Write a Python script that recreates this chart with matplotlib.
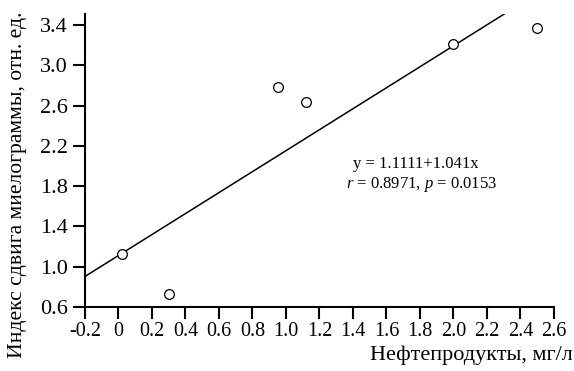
import matplotlib
matplotlib.use("Agg")
import matplotlib.pyplot as plt
import numpy as np

# data
oil = [0.02, 0.30, 0.95, 1.12, 2.00, 2.50]
shift_index = [1.13, 0.73, 2.78, 2.64, 3.21, 3.37]
intercept = 1.1111
slope = 1.041
xticks = np.round(np.arange(-0.2, 2.61, 0.2), 1)
xticklabels = ["-0.2", "0", "0.2", "0.4", "0.6", "0.8", "1.0", "1.2", "1.4",
               "1.6", "1.8", "2.0", "2.2", "2.4", "2.6"]
yticks = [0.6, 1.0, 1.4, 1.8, 2.2, 2.6, 3.0, 3.4]
yticklabels = ["0.6", "1.0", "1.4", "1.8", "2.2", "2.6", "3.0", "3.4"]

plt.rcParams["font.family"] = ["Liberation Serif", "DejaVu Serif"]
plt.rcParams["mathtext.fontset"] = "custom"
plt.rcParams["mathtext.rm"] = "Liberation Serif"
plt.rcParams["mathtext.it"] = "Liberation Serif:italic"

fig = plt.figure(figsize=(5.74, 3.71), dpi=100)
ax = fig.add_axes([0.148, 0.1725, 0.817, 0.79])

xx = np.array([-0.2, 2.6])
ax.plot(xx, intercept + slope * xx, color="black", lw=1.1)
ax.plot(oil, shift_index, "o", mfc="white", mec="black", mew=0.9, ms=7, ls="none")

ax.set_xlim(-0.2, 2.6)
ax.set_ylim(0.6, 3.51)
ax.set_xticks(xticks)
ax.set_xticklabels(xticklabels)
ax.set_yticks(yticks)
ax.set_yticklabels(yticklabels)
ax.tick_params(width=1.5, length=8.5, direction="out")
ax.tick_params(axis="x", labelsize=14.5, pad=2)
ax.tick_params(axis="y", labelsize=16, pad=4)
for s in ["top", "right"]:
    ax.spines[s].set_visible(False)
for s in ["left", "bottom"]:
    ax.spines[s].set_linewidth(1.5)

ax.set_xlabel("Нефтепродукты, мг/л", fontsize=16, ha="right", va="center")
ax.xaxis.set_label_coords(1.04, -0.165)
ax.set_ylabel("Индекс сдвига миелограммы, отн. ед.", fontsize=15.6, va="center")
ax.yaxis.set_label_coords(-0.143, 0.416)

ax.text(1.776, 2.02, "y = 1.1111+1.041x", fontsize=12, ha="center", va="center")
ax.text(1.812, 1.82, r"$\mathit{r}$ = 0.8971, $\mathit{p}$ = 0.0153", fontsize=12,
        ha="center", va="center")

fig.savefig("out.png", dpi=100)
